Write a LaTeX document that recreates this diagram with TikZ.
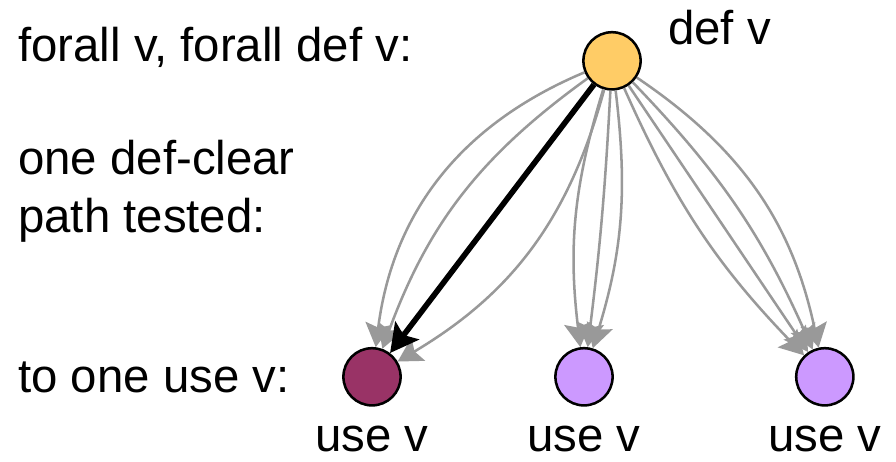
\documentclass[tikz,border=0pt]{standalone}
\usepackage{fontspec}
\setmainfont{Liberation Sans}
\usepackage{xcolor}
\usetikzlibrary{positioning,calc,arrows.meta}

\definecolor{defcol}{RGB}{255,204,102}
\definecolor{usedcol}{RGB}{153,51,102}
\definecolor{usecol}{RGB}{204,153,255}
\definecolor{pathcol}{RGB}{153,153,153}

\begin{document}
\begin{tikzpicture}[
        vertex/.style={circle, draw=black, line width=1.8pt, inner sep=0pt, minimum size=1.43cm},
        label/.style={font=\fontsize{33.7}{40}\selectfont, inner sep=0pt},
        flow/.style={draw=pathcol, line width=1.8pt, -{Stealth[length=17pt,width=19pt,inset=3pt]}},
        tested/.style={draw=black, line width=4pt, -{Stealth[length=20pt,width=21pt,inset=4pt]}}
    ]
        \useasboundingbox (0,0) rectangle (22.4,-11.55);

        % left column text
        \node[label, anchor=base west] (forall) at (0.45,-1.55) {forall v, forall def v:};
        \node[label, anchor=base west] (one) at (0.45,-4.375) {one def-clear};
        \node[label, anchor=base west] (path) at (0.45,-5.8) {path tested:};
        \node[label, anchor=base west] (touse) at (0.45,-9.8) {to one use v:};

        % def and uses
        \node[vertex, fill=defcol] (def) at (15.3,-1.52) {};
        \node[vertex, fill=usedcol] (usea) at (9.3,-9.42) {};
        \node[vertex, fill=usecol] (useb) at (14.6,-9.42) {};
        \node[vertex, fill=usecol] (usec) at (20.62,-9.42) {};

        \node[label, anchor=base west] (deflabel) at (16.7,-1.125) {def v};
        \node[label, anchor=base] (usealabel) at (9.3,-11.28) {use v};
        \node[label, anchor=base] (useblabel) at (14.6,-11.28) {use v};
        \node[label, anchor=base] (useclabel) at (20.62,-11.28) {use v};

        % def-clear paths
        \foreach \b in {30,17} \draw[flow] (def) to[bend right=\b] (usea);
        \draw[flow] (def) to[bend left=22] (usea);
        \foreach \b in {12,2} \draw[flow] (def) to[bend left=\b] (useb);
        \draw[flow] (def) to[bend right=12] (useb);
        \foreach \b in {22,10,0} \draw[flow] (def) to[bend left=\b] (usec);
        \draw[flow] (def) to[bend right=10] (usec);

        % the tested one
        \draw[tested] (def) -- (usea);
    \end{tikzpicture}
\end{document}
